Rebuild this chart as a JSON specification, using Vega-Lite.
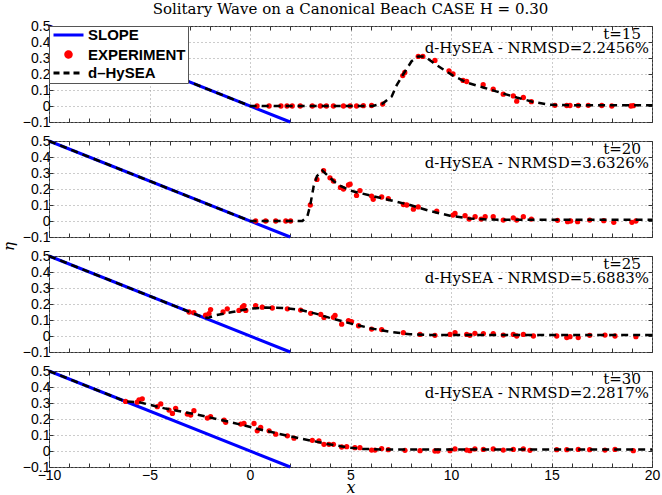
{
  "$schema": "https://vega.github.io/schema/vega-lite/v6.json",
  "padding": {"left": 0, "top": 1, "right": 9, "bottom": 0},
  "background": "white",
  "title": {"text": "Solitary Wave on a Canonical Beach CASE H = 0.30", "font": "DejaVu Serif", "fontSize": 15, "fontWeight": "normal", "color": "black", "anchor": "middle", "frame": "group", "offset": 2},
  "config": {
    "view": {"stroke": "#333", "strokeWidth": 1},
    "axis": {"domain": false, "labelFont": "Liberation Sans", "labelFontSize": 14, "labelColor": "black", "tickColor": "#333", "tickWidth": 1, "gridColor": "#999", "gridDash": [1, 3], "gridWidth": 1, "labelFlush": false, "labelOverlap": false}
  },
  "spacing": 19,
  "bounds": "flush",
  "resolve": {"scale": {"color": "independent"}, "legend": {"color": "independent"}},
  "datasets": {
    "labels": [
      {"t": 15, "tl": "t=15", "nl": "d-HySEA - NRMSD=2.2456%"},
      {"t": 20, "tl": "t=20", "nl": "d-HySEA - NRMSD=3.6326%"},
      {"t": 25, "tl": "t=25", "nl": "d-HySEA - NRMSD=5.6883%"},
      {"t": 30, "tl": "t=30", "nl": "d-HySEA - NRMSD=2.2817%"}
    ],
    "pts": [
      {"t": 0, "s": "SLOPE", "x": -10, "y": 0.5},
      {"t": 0, "s": "SLOPE", "x": 2, "y": -0.1},

      {"t": 15, "s": "d-HySEA", "x": -10, "y": 0.5},
      {"t": 15, "s": "d-HySEA", "x": 0, "y": 0},
      {"t": 15, "s": "d-HySEA", "x": 0.5, "y": 0},
      {"t": 15, "s": "d-HySEA", "x": 6.1, "y": 0},
      {"t": 15, "s": "d-HySEA", "x": 6.6, "y": 0.015},
      {"t": 15, "s": "d-HySEA", "x": 7.05, "y": 0.06},
      {"t": 15, "s": "d-HySEA", "x": 7.3, "y": 0.13},
      {"t": 15, "s": "d-HySEA", "x": 7.63, "y": 0.2},
      {"t": 15, "s": "d-HySEA", "x": 8.04, "y": 0.28},
      {"t": 15, "s": "d-HySEA", "x": 8.37, "y": 0.31},
      {"t": 15, "s": "d-HySEA", "x": 8.7, "y": 0.31},
      {"t": 15, "s": "d-HySEA", "x": 9.12, "y": 0.27},
      {"t": 15, "s": "d-HySEA", "x": 9.6, "y": 0.23},
      {"t": 15, "s": "d-HySEA", "x": 10.1, "y": 0.19},
      {"t": 15, "s": "d-HySEA", "x": 10.78, "y": 0.147},
      {"t": 15, "s": "d-HySEA", "x": 11.6, "y": 0.116},
      {"t": 15, "s": "d-HySEA", "x": 12.44, "y": 0.084},
      {"t": 15, "s": "d-HySEA", "x": 13.27, "y": 0.053},
      {"t": 15, "s": "d-HySEA", "x": 14.1, "y": 0.025},
      {"t": 15, "s": "d-HySEA", "x": 14.9, "y": 0.008},
      {"t": 15, "s": "d-HySEA", "x": 16, "y": 0.005},
      {"t": 15, "s": "d-HySEA", "x": 20, "y": 0.005},

      {"t": 15, "s": "EXPERIMENT", "x": 0.35, "y": 0},
      {"t": 15, "s": "EXPERIMENT", "x": 0.95, "y": 0},
      {"t": 15, "s": "EXPERIMENT", "x": 1.54, "y": 0},
      {"t": 15, "s": "EXPERIMENT", "x": 1.84, "y": 0},
      {"t": 15, "s": "EXPERIMENT", "x": 2.1, "y": 0},
      {"t": 15, "s": "EXPERIMENT", "x": 2.5, "y": 0},
      {"t": 15, "s": "EXPERIMENT", "x": 3.1, "y": 0},
      {"t": 15, "s": "EXPERIMENT", "x": 3.5, "y": 0},
      {"t": 15, "s": "EXPERIMENT", "x": 3.8, "y": 0},
      {"t": 15, "s": "EXPERIMENT", "x": 4.15, "y": 0},
      {"t": 15, "s": "EXPERIMENT", "x": 4.65, "y": 0},
      {"t": 15, "s": "EXPERIMENT", "x": 4.98, "y": 0},
      {"t": 15, "s": "EXPERIMENT", "x": 5.3, "y": 0},
      {"t": 15, "s": "EXPERIMENT", "x": 5.64, "y": 0.002},
      {"t": 15, "s": "EXPERIMENT", "x": 6.05, "y": 0.003},
      {"t": 15, "s": "EXPERIMENT", "x": 6.6, "y": 0.012},
      {"t": 15, "s": "EXPERIMENT", "x": 7.6, "y": 0.19},
      {"t": 15, "s": "EXPERIMENT", "x": 7.7, "y": 0.21},
      {"t": 15, "s": "EXPERIMENT", "x": 8.37, "y": 0.31},
      {"t": 15, "s": "EXPERIMENT", "x": 8.6, "y": 0.31},
      {"t": 15, "s": "EXPERIMENT", "x": 9.2, "y": 0.285},
      {"t": 15, "s": "EXPERIMENT", "x": 9.9, "y": 0.22},
      {"t": 15, "s": "EXPERIMENT", "x": 10.1, "y": 0.2},
      {"t": 15, "s": "EXPERIMENT", "x": 10.6, "y": 0.16},
      {"t": 15, "s": "EXPERIMENT", "x": 10.78, "y": 0.153},
      {"t": 15, "s": "EXPERIMENT", "x": 11.6, "y": 0.133},
      {"t": 15, "s": "EXPERIMENT", "x": 12.1, "y": 0.105},
      {"t": 15, "s": "EXPERIMENT", "x": 12.6, "y": 0.074},
      {"t": 15, "s": "EXPERIMENT", "x": 13.1, "y": 0.063},
      {"t": 15, "s": "EXPERIMENT", "x": 13.27, "y": 0.03},
      {"t": 15, "s": "EXPERIMENT", "x": 13.6, "y": 0.053},
      {"t": 15, "s": "EXPERIMENT", "x": 14.0, "y": 0.027},
      {"t": 15, "s": "EXPERIMENT", "x": 15.17, "y": 0.004},
      {"t": 15, "s": "EXPERIMENT", "x": 15.76, "y": 0.003},
      {"t": 15, "s": "EXPERIMENT", "x": 15.92, "y": 0.003},
      {"t": 15, "s": "EXPERIMENT", "x": 16.33, "y": 0.003},
      {"t": 15, "s": "EXPERIMENT", "x": 16.83, "y": 0.004},
      {"t": 15, "s": "EXPERIMENT", "x": 17.5, "y": 0.003},
      {"t": 15, "s": "EXPERIMENT", "x": 18.0, "y": 0.0},
      {"t": 15, "s": "EXPERIMENT", "x": 18.95, "y": 0.0},
      {"t": 15, "s": "EXPERIMENT", "x": 19.07, "y": 0.002},

      {"t": 20, "s": "d-HySEA", "x": -10, "y": 0.5},
      {"t": 20, "s": "d-HySEA", "x": 0, "y": 0},
      {"t": 20, "s": "d-HySEA", "x": 0.3, "y": 0},
      {"t": 20, "s": "d-HySEA", "x": 2.6, "y": 0},
      {"t": 20, "s": "d-HySEA", "x": 2.85, "y": 0.027},
      {"t": 20, "s": "d-HySEA", "x": 3.0, "y": 0.1},
      {"t": 20, "s": "d-HySEA", "x": 3.17, "y": 0.22},
      {"t": 20, "s": "d-HySEA", "x": 3.33, "y": 0.28},
      {"t": 20, "s": "d-HySEA", "x": 3.6, "y": 0.315},
      {"t": 20, "s": "d-HySEA", "x": 3.9, "y": 0.28},
      {"t": 20, "s": "d-HySEA", "x": 4.2, "y": 0.245},
      {"t": 20, "s": "d-HySEA", "x": 4.5, "y": 0.22},
      {"t": 20, "s": "d-HySEA", "x": 4.98, "y": 0.19},
      {"t": 20, "s": "d-HySEA", "x": 5.97, "y": 0.16},
      {"t": 20, "s": "d-HySEA", "x": 6.97, "y": 0.13},
      {"t": 20, "s": "d-HySEA", "x": 7.96, "y": 0.1},
      {"t": 20, "s": "d-HySEA", "x": 8.96, "y": 0.062},
      {"t": 20, "s": "d-HySEA", "x": 9.95, "y": 0.033},
      {"t": 20, "s": "d-HySEA", "x": 10.9, "y": 0.016},
      {"t": 20, "s": "d-HySEA", "x": 11.9, "y": 0.009},
      {"t": 20, "s": "d-HySEA", "x": 13, "y": 0.008},
      {"t": 20, "s": "d-HySEA", "x": 20, "y": 0.008},

      {"t": 20, "s": "EXPERIMENT", "x": 0.28, "y": 0},
      {"t": 20, "s": "EXPERIMENT", "x": 0.78, "y": 0},
      {"t": 20, "s": "EXPERIMENT", "x": 1.28, "y": 0},
      {"t": 20, "s": "EXPERIMENT", "x": 1.78, "y": 0},
      {"t": 20, "s": "EXPERIMENT", "x": 2.02, "y": 0},
      {"t": 20, "s": "EXPERIMENT", "x": 3.0, "y": 0.1},
      {"t": 20, "s": "EXPERIMENT", "x": 3.33, "y": 0.26},
      {"t": 20, "s": "EXPERIMENT", "x": 3.66, "y": 0.315},
      {"t": 20, "s": "EXPERIMENT", "x": 3.98, "y": 0.27},
      {"t": 20, "s": "EXPERIMENT", "x": 4.15, "y": 0.25},
      {"t": 20, "s": "EXPERIMENT", "x": 4.5, "y": 0.21},
      {"t": 20, "s": "EXPERIMENT", "x": 4.65, "y": 0.2},
      {"t": 20, "s": "EXPERIMENT", "x": 4.9, "y": 0.225},
      {"t": 20, "s": "EXPERIMENT", "x": 4.98, "y": 0.23},
      {"t": 20, "s": "EXPERIMENT", "x": 5.3, "y": 0.16},
      {"t": 20, "s": "EXPERIMENT", "x": 5.47, "y": 0.19},
      {"t": 20, "s": "EXPERIMENT", "x": 6.05, "y": 0.156},
      {"t": 20, "s": "EXPERIMENT", "x": 6.13, "y": 0.136},
      {"t": 20, "s": "EXPERIMENT", "x": 6.55, "y": 0.15},
      {"t": 20, "s": "EXPERIMENT", "x": 6.88, "y": 0.14},
      {"t": 20, "s": "EXPERIMENT", "x": 7.63, "y": 0.103},
      {"t": 20, "s": "EXPERIMENT", "x": 7.8, "y": 0.1},
      {"t": 20, "s": "EXPERIMENT", "x": 8.13, "y": 0.074},
      {"t": 20, "s": "EXPERIMENT", "x": 8.37, "y": 0.088},
      {"t": 20, "s": "EXPERIMENT", "x": 9.29, "y": 0.062},
      {"t": 20, "s": "EXPERIMENT", "x": 10.1, "y": 0.037},
      {"t": 20, "s": "EXPERIMENT", "x": 10.2, "y": 0.047},
      {"t": 20, "s": "EXPERIMENT", "x": 10.7, "y": 0.033},
      {"t": 20, "s": "EXPERIMENT", "x": 10.9, "y": 0.012},
      {"t": 20, "s": "EXPERIMENT", "x": 11.2, "y": 0.027},
      {"t": 20, "s": "EXPERIMENT", "x": 11.5, "y": 0.012},
      {"t": 20, "s": "EXPERIMENT", "x": 11.7, "y": 0.027},
      {"t": 20, "s": "EXPERIMENT", "x": 12.1, "y": 0.027},
      {"t": 20, "s": "EXPERIMENT", "x": 12.6, "y": 0.006},
      {"t": 20, "s": "EXPERIMENT", "x": 13.1, "y": 0.02},
      {"t": 20, "s": "EXPERIMENT", "x": 13.27, "y": 0.006},
      {"t": 20, "s": "EXPERIMENT", "x": 13.6, "y": 0.027},
      {"t": 20, "s": "EXPERIMENT", "x": 14.0, "y": 0.012},
      {"t": 20, "s": "EXPERIMENT", "x": 15.3, "y": 0.004},
      {"t": 20, "s": "EXPERIMENT", "x": 15.8, "y": -0.004},
      {"t": 20, "s": "EXPERIMENT", "x": 15.95, "y": 0},
      {"t": 20, "s": "EXPERIMENT", "x": 16.3, "y": -0.004},
      {"t": 20, "s": "EXPERIMENT", "x": 16.9, "y": 0.006},
      {"t": 20, "s": "EXPERIMENT", "x": 17.6, "y": 0.002},
      {"t": 20, "s": "EXPERIMENT", "x": 18.1, "y": -0.008},
      {"t": 20, "s": "EXPERIMENT", "x": 19.0, "y": -0.008},
      {"t": 20, "s": "EXPERIMENT", "x": 19.2, "y": 0},

      {"t": 25, "s": "d-HySEA", "x": -10, "y": 0.5},
      {"t": 25, "s": "d-HySEA", "x": -2.4, "y": 0.12},
      {"t": 25, "s": "d-HySEA", "x": -2.1, "y": 0.113},
      {"t": 25, "s": "d-HySEA", "x": -1.7, "y": 0.13},
      {"t": 25, "s": "d-HySEA", "x": -0.88, "y": 0.15},
      {"t": 25, "s": "d-HySEA", "x": -0.05, "y": 0.17},
      {"t": 25, "s": "d-HySEA", "x": 0.78, "y": 0.178},
      {"t": 25, "s": "d-HySEA", "x": 1.6, "y": 0.175},
      {"t": 25, "s": "d-HySEA", "x": 2.44, "y": 0.165},
      {"t": 25, "s": "d-HySEA", "x": 3.27, "y": 0.14},
      {"t": 25, "s": "d-HySEA", "x": 3.93, "y": 0.115},
      {"t": 25, "s": "d-HySEA", "x": 4.98, "y": 0.079},
      {"t": 25, "s": "d-HySEA", "x": 5.97, "y": 0.049},
      {"t": 25, "s": "d-HySEA", "x": 6.97, "y": 0.026},
      {"t": 25, "s": "d-HySEA", "x": 7.96, "y": 0.011},
      {"t": 25, "s": "d-HySEA", "x": 8.96, "y": 0.007},
      {"t": 25, "s": "d-HySEA", "x": 10, "y": 0.007},
      {"t": 25, "s": "d-HySEA", "x": 20, "y": 0.007},

      {"t": 25, "s": "EXPERIMENT", "x": -3.03, "y": 0.15},
      {"t": 25, "s": "EXPERIMENT", "x": -2.79, "y": 0.146},
      {"t": 25, "s": "EXPERIMENT", "x": -2.21, "y": 0.13},
      {"t": 25, "s": "EXPERIMENT", "x": -2.04, "y": 0.14},
      {"t": 25, "s": "EXPERIMENT", "x": -1.96, "y": 0.165},
      {"t": 25, "s": "EXPERIMENT", "x": -1.34, "y": 0.15},
      {"t": 25, "s": "EXPERIMENT", "x": -1.13, "y": 0.17},
      {"t": 25, "s": "EXPERIMENT", "x": -0.55, "y": 0.16},
      {"t": 25, "s": "EXPERIMENT", "x": -0.38, "y": 0.18},
      {"t": 25, "s": "EXPERIMENT", "x": -0.3, "y": 0.19},
      {"t": 25, "s": "EXPERIMENT", "x": -0.21, "y": 0.16},
      {"t": 25, "s": "EXPERIMENT", "x": 0.28, "y": 0.19},
      {"t": 25, "s": "EXPERIMENT", "x": 0.61, "y": 0.18},
      {"t": 25, "s": "EXPERIMENT", "x": 1.11, "y": 0.175},
      {"t": 25, "s": "EXPERIMENT", "x": 1.86, "y": 0.17},
      {"t": 25, "s": "EXPERIMENT", "x": 2.52, "y": 0.162},
      {"t": 25, "s": "EXPERIMENT", "x": 3.02, "y": 0.142},
      {"t": 25, "s": "EXPERIMENT", "x": 3.52, "y": 0.135},
      {"t": 25, "s": "EXPERIMENT", "x": 3.68, "y": 0.115},
      {"t": 25, "s": "EXPERIMENT", "x": 4.15, "y": 0.117},
      {"t": 25, "s": "EXPERIMENT", "x": 4.23, "y": 0.128},
      {"t": 25, "s": "EXPERIMENT", "x": 4.56, "y": 0.074},
      {"t": 25, "s": "EXPERIMENT", "x": 4.9, "y": 0.096},
      {"t": 25, "s": "EXPERIMENT", "x": 5.05, "y": 0.09},
      {"t": 25, "s": "EXPERIMENT", "x": 5.4, "y": 0.064},
      {"t": 25, "s": "EXPERIMENT", "x": 6.05, "y": 0.043},
      {"t": 25, "s": "EXPERIMENT", "x": 6.55, "y": 0.04},
      {"t": 25, "s": "EXPERIMENT", "x": 7.63, "y": 0.021},
      {"t": 25, "s": "EXPERIMENT", "x": 8.46, "y": 0.01},
      {"t": 25, "s": "EXPERIMENT", "x": 9.2, "y": 0.004},
      {"t": 25, "s": "EXPERIMENT", "x": 9.95, "y": 0.01},
      {"t": 25, "s": "EXPERIMENT", "x": 10.2, "y": 0.021},
      {"t": 25, "s": "EXPERIMENT", "x": 10.78, "y": 0.01},
      {"t": 25, "s": "EXPERIMENT", "x": 10.94, "y": 0.004},
      {"t": 25, "s": "EXPERIMENT", "x": 11.19, "y": 0.017},
      {"t": 25, "s": "EXPERIMENT", "x": 11.61, "y": 0.015},
      {"t": 25, "s": "EXPERIMENT", "x": 12.1, "y": 0.015},
      {"t": 25, "s": "EXPERIMENT", "x": 12.6, "y": 0.006},
      {"t": 25, "s": "EXPERIMENT", "x": 13.1, "y": 0.01},
      {"t": 25, "s": "EXPERIMENT", "x": 13.27, "y": 0.0},
      {"t": 25, "s": "EXPERIMENT", "x": 13.6, "y": 0.01},
      {"t": 25, "s": "EXPERIMENT", "x": 14.1, "y": 0.0},
      {"t": 25, "s": "EXPERIMENT", "x": 15.26, "y": 0.0},
      {"t": 25, "s": "EXPERIMENT", "x": 15.76, "y": -0.01},
      {"t": 25, "s": "EXPERIMENT", "x": 15.92, "y": -0.004},
      {"t": 25, "s": "EXPERIMENT", "x": 16.33, "y": -0.01},
      {"t": 25, "s": "EXPERIMENT", "x": 16.9, "y": 0.004},
      {"t": 25, "s": "EXPERIMENT", "x": 17.66, "y": 0.006},
      {"t": 25, "s": "EXPERIMENT", "x": 18.16, "y": 0.0},
      {"t": 25, "s": "EXPERIMENT", "x": 19.2, "y": -0.004},

      {"t": 30, "s": "d-HySEA", "x": -10, "y": 0.5},
      {"t": 30, "s": "d-HySEA", "x": -6.2, "y": 0.31},
      {"t": 30, "s": "d-HySEA", "x": -5.52, "y": 0.305},
      {"t": 30, "s": "d-HySEA", "x": -4.2, "y": 0.265},
      {"t": 30, "s": "d-HySEA", "x": -2.54, "y": 0.225},
      {"t": 30, "s": "d-HySEA", "x": -0.88, "y": 0.178},
      {"t": 30, "s": "d-HySEA", "x": 0.78, "y": 0.126},
      {"t": 30, "s": "d-HySEA", "x": 2.44, "y": 0.08},
      {"t": 30, "s": "d-HySEA", "x": 3.93, "y": 0.042},
      {"t": 30, "s": "d-HySEA", "x": 4.5, "y": 0.03},
      {"t": 30, "s": "d-HySEA", "x": 4.98, "y": 0.021},
      {"t": 30, "s": "d-HySEA", "x": 5.6, "y": 0.013},
      {"t": 30, "s": "d-HySEA", "x": 6.5, "y": 0.01},
      {"t": 30, "s": "d-HySEA", "x": 20, "y": 0.01},

      {"t": 30, "s": "EXPERIMENT", "x": -6.19, "y": 0.31},
      {"t": 30, "s": "EXPERIMENT", "x": -5.61, "y": 0.305},
      {"t": 30, "s": "EXPERIMENT", "x": -5.52, "y": 0.32},
      {"t": 30, "s": "EXPERIMENT", "x": -5.36, "y": 0.326},
      {"t": 30, "s": "EXPERIMENT", "x": -4.61, "y": 0.277},
      {"t": 30, "s": "EXPERIMENT", "x": -4.44, "y": 0.294},
      {"t": 30, "s": "EXPERIMENT", "x": -4.03, "y": 0.256},
      {"t": 30, "s": "EXPERIMENT", "x": -3.86, "y": 0.235},
      {"t": 30, "s": "EXPERIMENT", "x": -3.7, "y": 0.267},
      {"t": 30, "s": "EXPERIMENT", "x": -3.12, "y": 0.231},
      {"t": 30, "s": "EXPERIMENT", "x": -2.95, "y": 0.225},
      {"t": 30, "s": "EXPERIMENT", "x": -2.79, "y": 0.252},
      {"t": 30, "s": "EXPERIMENT", "x": -2.12, "y": 0.206},
      {"t": 30, "s": "EXPERIMENT", "x": -1.96, "y": 0.214},
      {"t": 30, "s": "EXPERIMENT", "x": -1.29, "y": 0.193},
      {"t": 30, "s": "EXPERIMENT", "x": -1.21, "y": 0.179},
      {"t": 30, "s": "EXPERIMENT", "x": -0.46, "y": 0.168},
      {"t": 30, "s": "EXPERIMENT", "x": -0.3, "y": 0.172},
      {"t": 30, "s": "EXPERIMENT", "x": 0.2, "y": 0.172},
      {"t": 30, "s": "EXPERIMENT", "x": 0.36, "y": 0.126},
      {"t": 30, "s": "EXPERIMENT", "x": 0.53, "y": 0.147},
      {"t": 30, "s": "EXPERIMENT", "x": 0.95, "y": 0.126},
      {"t": 30, "s": "EXPERIMENT", "x": 1.28, "y": 0.105},
      {"t": 30, "s": "EXPERIMENT", "x": 1.86, "y": 0.095},
      {"t": 30, "s": "EXPERIMENT", "x": 2.19, "y": 0.08},
      {"t": 30, "s": "EXPERIMENT", "x": 3.1, "y": 0.067},
      {"t": 30, "s": "EXPERIMENT", "x": 3.43, "y": 0.063},
      {"t": 30, "s": "EXPERIMENT", "x": 3.68, "y": 0.042},
      {"t": 30, "s": "EXPERIMENT", "x": 3.93, "y": 0.042},
      {"t": 30, "s": "EXPERIMENT", "x": 4.15, "y": 0.042},
      {"t": 30, "s": "EXPERIMENT", "x": 4.56, "y": 0.025},
      {"t": 30, "s": "EXPERIMENT", "x": 4.81, "y": 0.027},
      {"t": 30, "s": "EXPERIMENT", "x": 5.22, "y": 0.021},
      {"t": 30, "s": "EXPERIMENT", "x": 5.47, "y": 0.021},
      {"t": 30, "s": "EXPERIMENT", "x": 6.05, "y": 0.006},
      {"t": 30, "s": "EXPERIMENT", "x": 6.22, "y": 0.006},
      {"t": 30, "s": "EXPERIMENT", "x": 6.55, "y": 0.015},
      {"t": 30, "s": "EXPERIMENT", "x": 6.88, "y": 0.008},
      {"t": 30, "s": "EXPERIMENT", "x": 7.71, "y": 0.004},
      {"t": 30, "s": "EXPERIMENT", "x": 8.46, "y": 0.002},
      {"t": 30, "s": "EXPERIMENT", "x": 9.2, "y": 0.0},
      {"t": 30, "s": "EXPERIMENT", "x": 9.35, "y": 0.0},
      {"t": 30, "s": "EXPERIMENT", "x": 9.95, "y": 0.002},
      {"t": 30, "s": "EXPERIMENT", "x": 10.2, "y": 0.013},
      {"t": 30, "s": "EXPERIMENT", "x": 10.78, "y": 0.006},
      {"t": 30, "s": "EXPERIMENT", "x": 10.94, "y": 0.002},
      {"t": 30, "s": "EXPERIMENT", "x": 11.19, "y": 0.013},
      {"t": 30, "s": "EXPERIMENT", "x": 11.61, "y": 0.01},
      {"t": 30, "s": "EXPERIMENT", "x": 12.1, "y": 0.013},
      {"t": 30, "s": "EXPERIMENT", "x": 12.6, "y": 0.006},
      {"t": 30, "s": "EXPERIMENT", "x": 13.1, "y": 0.01},
      {"t": 30, "s": "EXPERIMENT", "x": 13.6, "y": 0.013},
      {"t": 30, "s": "EXPERIMENT", "x": 13.93, "y": 0.004},
      {"t": 30, "s": "EXPERIMENT", "x": 15.26, "y": 0.008},
      {"t": 30, "s": "EXPERIMENT", "x": 15.76, "y": 0.008},
      {"t": 30, "s": "EXPERIMENT", "x": 16.33, "y": 0.01},
      {"t": 30, "s": "EXPERIMENT", "x": 16.9, "y": 0.008},
      {"t": 30, "s": "EXPERIMENT", "x": 17.66, "y": 0.006},
      {"t": 30, "s": "EXPERIMENT", "x": 18.16, "y": 0.01},
      {"t": 30, "s": "EXPERIMENT", "x": 19.07, "y": 0.002}
    ]
  },
  "data": {"name": "pts"},
  "vconcat": [
    {
      "width": 603, "height": 96,
      "layer": [
        {"transform": [{"filter": "datum.s == 'SLOPE'"}],
         "mark": {"type": "line", "strokeWidth": 3},
         "encoding": {
           "x": {"field": "x", "type": "quantitative", "scale": {"domain": [-10, 20], "nice": false, "zero": false},
                 "axis": {"orient": "bottom", "values": [-10,-9,-8,-7,-6,-5,-4,-3,-2,-1,0,1,2,3,4,5,6,7,8,9,10,11,12,13,14,15,16,17,18,19,20], "labels": false, "tickSize": -4, "grid": true, "gridOpacity": {"condition": {"test": "datum.value % 5 == 0", "value": 1}, "value": 0}, "title": null}},
           "y": {"field": "y", "type": "quantitative", "scale": {"domain": [-0.1, 0.5], "nice": false, "zero": false},
                 "axis": {"orient": "left", "values": [-0.1,0,0.1,0.2,0.3,0.4,0.5], "format": ".1~f", "tickSize": -4, "labelPadding": 3, "grid": true, "title": null}},
           "color": {"field": "s", "type": "nominal", "scale": {"domain": ["SLOPE", "EXPERIMENT", "d-HySEA"], "range": ["#0000ff", "#ff0000", "#000000"]},
                     "legend": {"orient": "top-left", "offset": 0, "title": null, "zindex": 1, "symbolType": "M-2.5,0H2.5", "symbolSize": 144, "symbolStrokeWidth": 3, "symbolOffset": 10.5,
                                "labelFont": "Liberation Sans", "labelFontSize": 15, "labelFontWeight": "bold", "labelColor": "black", "labelOffset": 12,
                                "fillColor": "white", "strokeColor": "#555", "padding": 1.5, "rowPadding": 1.5, "cornerRadius": 0,
                                "labelExpr": "datum.label == 'd-HySEA' ? 'd–HySEA' : datum.label",
                                "encode": {"symbols": {"update": {
                                  "shape": {"signal": "datum.value == 'EXPERIMENT' ? 'circle' : 'M-2.5,0H2.5'"},
                                  "size": {"signal": "datum.value == 'EXPERIMENT' ? 30 : 144"},
                                  "strokeDash": {"signal": "datum.value == 'd-HySEA' ? [6,4] : [1,0]"},
                                  "fill": {"value": "#ff0000"},
                                  "fillOpacity": {"value": 1},
                                  "opacity": {"value": 1},
                                  "strokeWidth": {"value": 3},
                                  "stroke": {"signal": "datum.value == 'SLOPE' ? '#0000ff' : (datum.value == 'EXPERIMENT' ? 'transparent' : '#000000')"}
                                }}}}}
         }},
        {"transform": [{"filter": "datum.s == 'EXPERIMENT' && datum.t == 15"}],
         "mark": {"type": "circle", "size": 28, "opacity": 1},
         "encoding": {
           "x": {"field": "x", "type": "quantitative", "axis": {"orient": "top", "values": [-10,-9,-8,-7,-6,-5,-4,-3,-2,-1,0,1,2,3,4,5,6,7,8,9,10,11,12,13,14,15,16,17,18,19,20], "labels": false, "tickSize": -4, "grid": false, "title": null}},
           "y": {"field": "y", "type": "quantitative", "axis": {"orient": "right", "values": [-0.1,0,0.1,0.2,0.3,0.4,0.5], "labels": false, "tickSize": -4, "grid": false, "title": null}},
           "color": {"field": "s", "type": "nominal", "scale": {"domain": ["SLOPE", "EXPERIMENT", "d-HySEA"], "range": ["#0000ff", "#ff0000", "#000000"]}}
         }},
        {"transform": [{"filter": "datum.s == 'd-HySEA' && datum.t == 15"}],
         "mark": {"type": "line", "strokeWidth": 2.5, "strokeDash": [7, 5]},
         "encoding": {
           "x": {"field": "x", "type": "quantitative", "axis": null},
           "y": {"field": "y", "type": "quantitative", "axis": null},
           "color": {"field": "s", "type": "nominal", "scale": {"domain": ["SLOPE", "EXPERIMENT", "d-HySEA"], "range": ["#0000ff", "#ff0000", "#000000"]}}
         }},
        {"data": {"name": "labels"}, "transform": [{"filter": "datum.t == 15"}],
         "mark": {"type": "text", "align": "right", "baseline": "middle", "font": "DejaVu Serif", "fontSize": 15, "color": "black"},
         "encoding": {"x": {"datum": 19.45, "axis": null}, "y": {"datum": 0.452, "axis": null}, "text": {"field": "tl"}}},
        {"data": {"name": "labels"}, "transform": [{"filter": "datum.t == 15"}],
         "mark": {"type": "text", "align": "right", "baseline": "middle", "font": "DejaVu Serif", "fontSize": 15, "color": "black"},
         "encoding": {"x": {"datum": 19.85, "axis": null}, "y": {"datum": 0.36, "axis": null}, "text": {"field": "nl"}}}
      ],
      "resolve": {"axis": {"x": "independent", "y": "independent"}}
    },
    {
      "width": 603, "height": 96,
      "layer": [
        {"transform": [{"filter": "datum.s == 'SLOPE'"}],
         "mark": {"type": "line", "strokeWidth": 3},
         "encoding": {
           "x": {"field": "x", "type": "quantitative", "scale": {"domain": [-10, 20], "nice": false, "zero": false},
                 "axis": {"orient": "bottom", "values": [-10,-9,-8,-7,-6,-5,-4,-3,-2,-1,0,1,2,3,4,5,6,7,8,9,10,11,12,13,14,15,16,17,18,19,20], "labels": false, "tickSize": -4, "grid": true, "gridOpacity": {"condition": {"test": "datum.value % 5 == 0", "value": 1}, "value": 0}, "title": null}},
           "y": {"field": "y", "type": "quantitative", "scale": {"domain": [-0.1, 0.5], "nice": false, "zero": false},
                 "axis": {"orient": "left", "values": [-0.1,0,0.1,0.2,0.3,0.4,0.5], "format": ".1~f", "tickSize": -4, "labelPadding": 3, "grid": true, "title": null}},
           "color": {"field": "s", "type": "nominal", "scale": {"domain": ["SLOPE", "EXPERIMENT", "d-HySEA"], "range": ["#0000ff", "#ff0000", "#000000"]}, "legend": null}
         }},
        {"transform": [{"filter": "datum.s == 'EXPERIMENT' && datum.t == 20"}],
         "mark": {"type": "circle", "size": 28, "opacity": 1},
         "encoding": {
           "x": {"field": "x", "type": "quantitative", "axis": {"orient": "top", "values": [-10,-9,-8,-7,-6,-5,-4,-3,-2,-1,0,1,2,3,4,5,6,7,8,9,10,11,12,13,14,15,16,17,18,19,20], "labels": false, "tickSize": -4, "grid": false, "title": null}},
           "y": {"field": "y", "type": "quantitative", "axis": {"orient": "right", "values": [-0.1,0,0.1,0.2,0.3,0.4,0.5], "labels": false, "tickSize": -4, "grid": false, "title": null}},
           "color": {"field": "s", "type": "nominal", "scale": {"domain": ["SLOPE", "EXPERIMENT", "d-HySEA"], "range": ["#0000ff", "#ff0000", "#000000"]}, "legend": null}
         }},
        {"transform": [{"filter": "datum.s == 'd-HySEA' && datum.t == 20"}],
         "mark": {"type": "line", "strokeWidth": 2.5, "strokeDash": [7, 5]},
         "encoding": {
           "x": {"field": "x", "type": "quantitative", "axis": null},
           "y": {"field": "y", "type": "quantitative", "axis": null},
           "color": {"field": "s", "type": "nominal", "scale": {"domain": ["SLOPE", "EXPERIMENT", "d-HySEA"], "range": ["#0000ff", "#ff0000", "#000000"]}, "legend": null}
         }},
        {"data": {"name": "labels"}, "transform": [{"filter": "datum.t == 20"}],
         "mark": {"type": "text", "align": "right", "baseline": "middle", "font": "DejaVu Serif", "fontSize": 15, "color": "black"},
         "encoding": {"x": {"datum": 19.45, "axis": null}, "y": {"datum": 0.452, "axis": null}, "text": {"field": "tl"}}},
        {"data": {"name": "labels"}, "transform": [{"filter": "datum.t == 20"}],
         "mark": {"type": "text", "align": "right", "baseline": "middle", "font": "DejaVu Serif", "fontSize": 15, "color": "black"},
         "encoding": {"x": {"datum": 19.85, "axis": null}, "y": {"datum": 0.36, "axis": null}, "text": {"field": "nl"}}}
      ],
      "resolve": {"axis": {"x": "independent", "y": "independent"}}
    },
    {
      "width": 603, "height": 96,
      "layer": [
        {"transform": [{"filter": "datum.s == 'SLOPE'"}],
         "mark": {"type": "line", "strokeWidth": 3},
         "encoding": {
           "x": {"field": "x", "type": "quantitative", "scale": {"domain": [-10, 20], "nice": false, "zero": false},
                 "axis": {"orient": "bottom", "values": [-10,-9,-8,-7,-6,-5,-4,-3,-2,-1,0,1,2,3,4,5,6,7,8,9,10,11,12,13,14,15,16,17,18,19,20], "labels": false, "tickSize": -4, "grid": true, "gridOpacity": {"condition": {"test": "datum.value % 5 == 0", "value": 1}, "value": 0}, "title": null}},
           "y": {"field": "y", "type": "quantitative", "scale": {"domain": [-0.1, 0.5], "nice": false, "zero": false},
                 "axis": {"orient": "left", "values": [-0.1,0,0.1,0.2,0.3,0.4,0.5], "format": ".1~f", "tickSize": -4, "labelPadding": 3, "grid": true,
                          "title": "η", "titleFont": "DejaVu Serif", "titleFontStyle": "italic", "titleFontWeight": "normal", "titleFontSize": 15, "titleColor": "black", "titleX": -33, "titleY": -10}},
           "color": {"field": "s", "type": "nominal", "scale": {"domain": ["SLOPE", "EXPERIMENT", "d-HySEA"], "range": ["#0000ff", "#ff0000", "#000000"]}, "legend": null}
         }},
        {"transform": [{"filter": "datum.s == 'EXPERIMENT' && datum.t == 25"}],
         "mark": {"type": "circle", "size": 28, "opacity": 1},
         "encoding": {
           "x": {"field": "x", "type": "quantitative", "axis": {"orient": "top", "values": [-10,-9,-8,-7,-6,-5,-4,-3,-2,-1,0,1,2,3,4,5,6,7,8,9,10,11,12,13,14,15,16,17,18,19,20], "labels": false, "tickSize": -4, "grid": false, "title": null}},
           "y": {"field": "y", "type": "quantitative", "axis": {"orient": "right", "values": [-0.1,0,0.1,0.2,0.3,0.4,0.5], "labels": false, "tickSize": -4, "grid": false, "title": null}},
           "color": {"field": "s", "type": "nominal", "scale": {"domain": ["SLOPE", "EXPERIMENT", "d-HySEA"], "range": ["#0000ff", "#ff0000", "#000000"]}, "legend": null}
         }},
        {"transform": [{"filter": "datum.s == 'd-HySEA' && datum.t == 25"}],
         "mark": {"type": "line", "strokeWidth": 2.5, "strokeDash": [7, 5]},
         "encoding": {
           "x": {"field": "x", "type": "quantitative", "axis": null},
           "y": {"field": "y", "type": "quantitative", "axis": null},
           "color": {"field": "s", "type": "nominal", "scale": {"domain": ["SLOPE", "EXPERIMENT", "d-HySEA"], "range": ["#0000ff", "#ff0000", "#000000"]}, "legend": null}
         }},
        {"data": {"name": "labels"}, "transform": [{"filter": "datum.t == 25"}],
         "mark": {"type": "text", "align": "right", "baseline": "middle", "font": "DejaVu Serif", "fontSize": 15, "color": "black"},
         "encoding": {"x": {"datum": 19.45, "axis": null}, "y": {"datum": 0.452, "axis": null}, "text": {"field": "tl"}}},
        {"data": {"name": "labels"}, "transform": [{"filter": "datum.t == 25"}],
         "mark": {"type": "text", "align": "right", "baseline": "middle", "font": "DejaVu Serif", "fontSize": 15, "color": "black"},
         "encoding": {"x": {"datum": 19.85, "axis": null}, "y": {"datum": 0.36, "axis": null}, "text": {"field": "nl"}}}
      ],
      "resolve": {"axis": {"x": "independent", "y": "independent"}}
    },
    {
      "width": 603, "height": 96,
      "layer": [
        {"transform": [{"filter": "datum.s == 'SLOPE'"}],
         "mark": {"type": "line", "strokeWidth": 3},
         "encoding": {
           "x": {"field": "x", "type": "quantitative", "scale": {"domain": [-10, 20], "nice": false, "zero": false},
                 "axis": {"orient": "bottom", "values": [-10,-9,-8,-7,-6,-5,-4,-3,-2,-1,0,1,2,3,4,5,6,7,8,9,10,11,12,13,14,15,16,17,18,19,20], "format": "d", "labelExpr": "datum.value % 5 == 0 ? datum.label : ''", "tickSize": -4, "labelPadding": 5, "grid": true, "gridOpacity": {"condition": {"test": "datum.value % 5 == 0", "value": 1}, "value": 0},
                          "title": "x", "titleFont": "DejaVu Serif", "titleFontStyle": "italic", "titleFontWeight": "normal", "titleFontSize": 16, "titleColor": "black", "titleY": 12}},
           "y": {"field": "y", "type": "quantitative", "scale": {"domain": [-0.1, 0.5], "nice": false, "zero": false},
                 "axis": {"orient": "left", "values": [-0.1,0,0.1,0.2,0.3,0.4,0.5], "format": ".1~f", "tickSize": -4, "labelPadding": 3, "grid": true, "title": null}},
           "color": {"field": "s", "type": "nominal", "scale": {"domain": ["SLOPE", "EXPERIMENT", "d-HySEA"], "range": ["#0000ff", "#ff0000", "#000000"]}, "legend": null}
         }},
        {"transform": [{"filter": "datum.s == 'EXPERIMENT' && datum.t == 30"}],
         "mark": {"type": "circle", "size": 28, "opacity": 1},
         "encoding": {
           "x": {"field": "x", "type": "quantitative", "axis": {"orient": "top", "values": [-10,-9,-8,-7,-6,-5,-4,-3,-2,-1,0,1,2,3,4,5,6,7,8,9,10,11,12,13,14,15,16,17,18,19,20], "labels": false, "tickSize": -4, "grid": false, "title": null}},
           "y": {"field": "y", "type": "quantitative", "axis": {"orient": "right", "values": [-0.1,0,0.1,0.2,0.3,0.4,0.5], "labels": false, "tickSize": -4, "grid": false, "title": null}},
           "color": {"field": "s", "type": "nominal", "scale": {"domain": ["SLOPE", "EXPERIMENT", "d-HySEA"], "range": ["#0000ff", "#ff0000", "#000000"]}, "legend": null}
         }},
        {"transform": [{"filter": "datum.s == 'd-HySEA' && datum.t == 30"}],
         "mark": {"type": "line", "strokeWidth": 2.5, "strokeDash": [7, 5]},
         "encoding": {
           "x": {"field": "x", "type": "quantitative", "axis": null},
           "y": {"field": "y", "type": "quantitative", "axis": null},
           "color": {"field": "s", "type": "nominal", "scale": {"domain": ["SLOPE", "EXPERIMENT", "d-HySEA"], "range": ["#0000ff", "#ff0000", "#000000"]}, "legend": null}
         }},
        {"data": {"name": "labels"}, "transform": [{"filter": "datum.t == 30"}],
         "mark": {"type": "text", "align": "right", "baseline": "middle", "font": "DejaVu Serif", "fontSize": 15, "color": "black"},
         "encoding": {"x": {"datum": 19.45, "axis": null}, "y": {"datum": 0.452, "axis": null}, "text": {"field": "tl"}}},
        {"data": {"name": "labels"}, "transform": [{"filter": "datum.t == 30"}],
         "mark": {"type": "text", "align": "right", "baseline": "middle", "font": "DejaVu Serif", "fontSize": 15, "color": "black"},
         "encoding": {"x": {"datum": 19.85, "axis": null}, "y": {"datum": 0.36, "axis": null}, "text": {"field": "nl"}}}
      ],
      "resolve": {"axis": {"x": "independent", "y": "independent"}}
    }
  ]
}
